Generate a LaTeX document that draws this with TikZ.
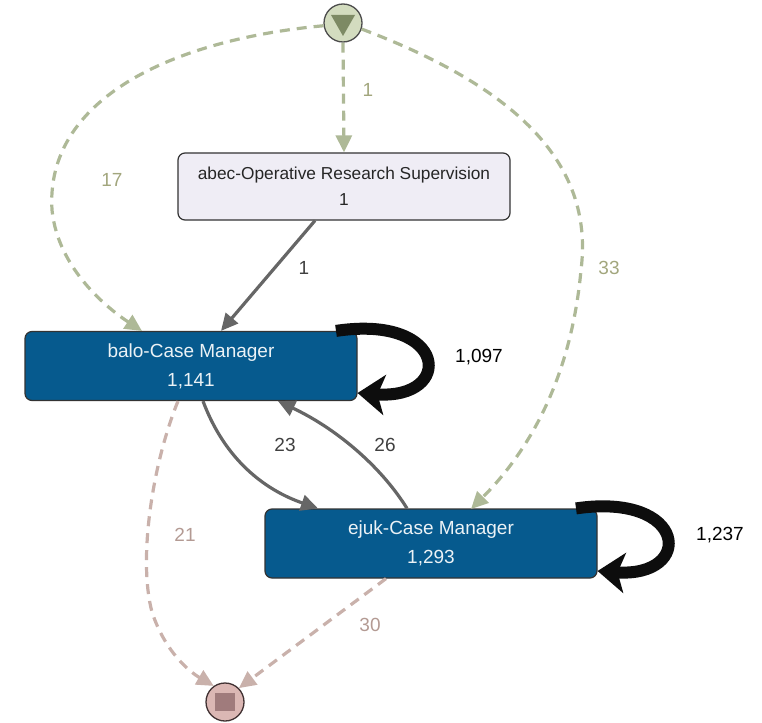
\documentclass[tikz,border=0pt]{standalone}
\usepackage{fontspec}
\setmainfont{Liberation Sans}
\usetikzlibrary{arrows.meta}
\definecolor{startfill}{HTML}{D3DCBF}
\definecolor{startmark}{HTML}{7D8A64}
\definecolor{endfill}{HTML}{DBB7B4}
\definecolor{endmark}{HTML}{A07B7C}
\definecolor{actblue}{HTML}{065A8E}
\definecolor{actpale}{HTML}{EFEDF5}
\definecolor{greenedge}{HTML}{AEB997}
\definecolor{greenlabel}{HTML}{A2A67D}
\definecolor{pinkedge}{HTML}{C9B1AB}
\definecolor{pinklabel}{HTML}{B39A93}
\definecolor{grayedge}{HTML}{666666}
\tikzset{
  actbox/.style={draw=black!80, line width=1.2pt, rounded corners=7pt,
    minimum width=332pt, align=center, inner sep=0pt},
  bluebox/.style={actbox, fill=actblue, text=white!92!actblue,
    minimum height=69pt, font=\fontsize{19}{29}\selectfont},
  palebox/.style={actbox, fill=actpale, text=black!85,
    minimum height=67pt, font=\fontsize{17.3}{26}\selectfont},
  startnode/.style={circle, draw=black!70, line width=1.3pt, fill=startfill,
    minimum size=38pt, inner sep=0pt},
  endnode/.style={circle, draw=black!60!endmark, line width=1.3pt, fill=endfill,
    minimum size=38pt, inner sep=0pt},
  greendash/.style={draw=greenedge, line width=3.2pt, dash pattern=on 10pt off 7pt,
    -{Triangle[length=17pt,width=16pt,fill=greenedge]}},
  pinkdash/.style={draw=pinkedge, line width=3.2pt, dash pattern=on 10pt off 7pt,
    -{Triangle[length=17pt,width=16pt,fill=pinkedge]}},
  grayline/.style={draw=grayedge, line width=3.2pt,
    -{Triangle[length=17pt,width=16pt]}},
  loopline/.style={draw=black!95, line width=12pt,
    -{Stealth[length=27pt,width=40pt,inset=7pt]}},
  lbl/.style={font=\fontsize{19}{22}\selectfont, inner sep=0pt},
}
\begin{document}
\begin{tikzpicture}[x=1pt,y=-1pt]
\useasboundingbox (0,0) rectangle (762,722);

% activities
\node[palebox] (abec) at (344,186.5) {abec-Operative Research Supervision\\1};
\node[bluebox] (balo) at (191,366) {balo-Case Manager\\1,141};
\node[bluebox] (ejuk) at (431,543.5) {ejuk-Case Manager\\1,293};

% start and end events
\node[startnode] (start) at (343,23) {};
\fill[startmark] (331,15) -- (355,15) -- (343,36) -- cycle;
\node[endnode] (end) at (225,702) {};
\fill[endmark] (215,693) rectangle (235,711);

% arcs leaving the start event
\draw[greendash] (start.south) -- (abec.north);
\draw[greendash] (start.188) .. controls (170,40) and (45,100) .. (52,210)
  .. controls (58,270) and (110,310) .. (142,331);
\draw[greendash] (start.-18) .. controls (510,85) and (595,160) .. (581,270)
  .. controls (570,390) and (520,460) .. (471,509);
\node[lbl, text=greenlabel] (l1) at (368,90) {1};
\node[lbl, text=greenlabel] (l17) at (112,180) {17};
\node[lbl, text=greenlabel] (l33) at (609,268) {33};

% arcs between activities
\draw[grayline] (abec.south -| 315,0) -- (balo.north -| 221,0);
\draw[grayline] (balo.south -| 203,0) .. controls (225,460) and (265,490) .. (ejuk.north -| 318,0);
\draw[grayline] (ejuk.north -| 407,0) .. controls (380,465) and (335,428) .. (balo.south -| 278,0);
\node[lbl, text=black!75] (l1b) at (304,268) {1};
\node[lbl, text=black!75] (l23) at (285,445) {23};
\node[lbl, text=black!75] (l26) at (385,445) {26};

% self loops
\draw[loopline] (balo.north -| 336,0) .. controls (448,314) and (455,400) .. (balo.east |- 0,393);
\draw[loopline] (ejuk.north -| 576,0) .. controls (688,492) and (695,578) .. (ejuk.east |- 0,571);
\node[lbl, text=black] (l1097) at (479,357) {1,097};
\node[lbl, text=black] (l1237) at (720,535) {1,237};

% arcs into the end event
\draw[pinkdash] (balo.south -| 178,0) .. controls (152,465) and (138,560) .. (152,612)
  .. controls (165,652) and (190,672) .. (end.125);
\draw[pinkdash] (ejuk.south -| 386,0) -- (end.45);
\node[lbl, text=pinklabel] (l21) at (185,535) {21};
\node[lbl, text=pinklabel] (l30) at (370,625) {30};
\end{tikzpicture}
\end{document}
